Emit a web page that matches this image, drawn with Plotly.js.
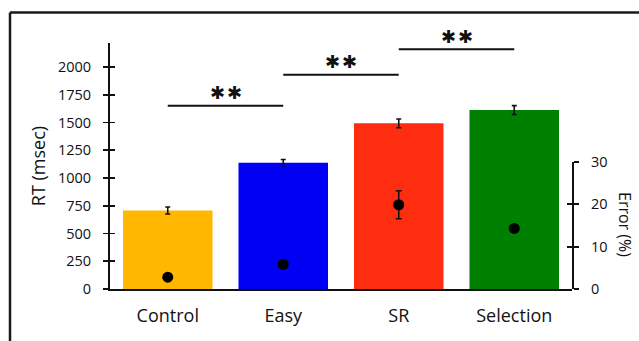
<!DOCTYPE html>
<html>
<head>
<meta charset="utf-8">
<script src="https://cdn.plot.ly/plotly-3.0.1.min.js"></script>
<style>html,body{margin:0;padding:0;background:#fff;}#chart{width:639px;height:341px;}</style>
</head>
<body>
<div id="chart"></div>
<script>
// ---- data ----
const categories = ["Control", "Easy", "SR", "Selection"];
const rtMean = [707, 1138, 1492, 1612];
const rtErr = [32, 28, 40, 40];
const errorRate = [2.8, 5.8, 19.9, 14.3];
const errorRateErr = [0, 0, 3.3, 0];
const barColors = ["#FFB700", "#0000F5", "#FF2D0F", "#008000"];
const sigPairs = [[0, 1], [1, 2], [2, 3]];
const sigHeights = [1650, 1930, 2160];
const sigLabels = ["✱\u200a✱", "✱\u200a✱", "✱\u200a✱"];
const rtTicks = [0, 250, 500, 750, 1000, 1250, 1500, 1750, 2000];
const errTicks = [0, 10, 20, 30];

// ---- layout geometry ----
const W = 639, H = 341;
const M = {l: 110, r: 67, t: 43, b: 52};
const pw = W - M.l - M.r, ph = H - M.t - M.b;
const px2paperX = p => (p - M.l) / pw;
const px2paperY = p => (H - M.b - p) / ph;
const font = "Open Sans, Liberation Sans, sans-serif";
const ink = "#111111";

const traces = [
  {
    type: "bar", x: categories, y: rtMean,
    marker: {color: barColors, line: {width: 0}},
    width: 0.775,
    error_y: {type: "data", array: rtErr, visible: true, color: ink, thickness: 1.6, width: 2.5},
    xaxis: "x", yaxis: "y", hoverinfo: "skip"
  },
  {
    type: "scatter", mode: "markers", x: categories, y: errorRate,
    marker: {color: "#000", size: 11},
    error_y: {type: "data", array: errorRateErr, visible: true, color: ink, thickness: 1.6, width: 3},
    xaxis: "x", yaxis: "y2", cliponaxis: false, hoverinfo: "skip"
  },
  // invisible helpers to draw crossing tick halves
  {type: "scatter", mode: "none", x: [categories[0]], y: [0], xaxis: "x", yaxis: "y3", hoverinfo: "skip", showlegend: false},
  {type: "scatter", mode: "none", x: [categories[0]], y: [0], xaxis: "x", yaxis: "y4", hoverinfo: "skip", showlegend: false}
];

const shapes = sigPairs.map((p, i) => ({
  type: "line", xref: "x", yref: "y",
  x0: p[0], x1: p[1], y0: sigHeights[i], y1: sigHeights[i],
  line: {color: ink, width: 2}
}));
// frame border (top and left)
shapes.push({type: "line", xref: "paper", yref: "paper", x0: px2paperX(10), x1: px2paperX(645), y0: px2paperY(12.5), y1: px2paperY(12.5), line: {color: "#1a1a1a", width: 2.5}});
shapes.push({type: "line", xref: "paper", yref: "paper", x0: px2paperX(10), x1: px2paperX(10), y0: px2paperY(12.5), y1: px2paperY(350), line: {color: "#1a1a1a", width: 2.5}});

const annotations = sigPairs.map((p, i) => ({
  xref: "x", yref: "y", x: (p[0] + p[1]) / 2, y: sigHeights[i],
  text: sigLabels[i], showarrow: false, yanchor: "middle", yshift: 13,
  font: {family: "DejaVu Sans", size: 18, color: ink}
}));
annotations.push({
  xref: "paper", yref: "paper", x: px2paperX(625), y: px2paperY(224),
  text: "Error (%)", textangle: 90, showarrow: false, xanchor: "center", yanchor: "middle",
  font: {family: font, size: 16, color: ink}
});

const err2Top = (H - M.b - 162) / ph;

const layout = {
  width: W, height: H,
  margin: M,
  paper_bgcolor: "#fff", plot_bgcolor: "rgba(0,0,0,0)",
  showlegend: false,
  font: {family: font, color: ink},
  xaxis: {
    type: "category", range: [-0.5, 3.5], showgrid: false, zeroline: false,
    showline: true, linecolor: ink, linewidth: 2,
    ticks: "outside", ticklen: 9, tickcolor: "rgba(0,0,0,0)",
    tickfont: {family: font, size: 18, color: ink}, fixedrange: true
  },
  yaxis: {
    range: [0, 2216], tickvals: rtTicks, ticktext: rtTicks.map(String),
    showgrid: false, zeroline: false, showline: true, linecolor: ink, linewidth: 2,
    ticks: "outside", ticklen: 5, tickwidth: 1.8, tickcolor: ink, ticklabelstandoff: 9,
    tickfont: {family: font, size: 14.5, color: ink},
    title: {text: "RT (msec)", font: {family: font, size: 18, color: ink}, standoff: 8}
  },
  yaxis3: {
    overlaying: "y", range: [0, 2216], tickvals: rtTicks, showticklabels: false,
    showgrid: false, zeroline: false, showline: false,
    ticks: "inside", ticklen: 5, tickwidth: 1.8, tickcolor: ink
  },
  yaxis2: {
    domain: [0, err2Top], anchor: "x", side: "right", range: [0, 30], tickvals: errTicks,
    showgrid: false, zeroline: false, showline: true, linecolor: ink, linewidth: 2,
    ticks: "outside", ticklen: 5, tickwidth: 1.8, tickcolor: ink, ticklabelstandoff: 9,
    tickfont: {family: font, size: 14.5, color: ink}
  },
  yaxis4: {
    overlaying: "y2", side: "right", anchor: "x", range: [0, 30], tickvals: errTicks, showticklabels: false,
    showgrid: false, zeroline: false, showline: false,
    ticks: "inside", ticklen: 5, tickwidth: 1.8, tickcolor: ink
  },
  shapes: shapes,
  annotations: annotations
};

Plotly.newPlot("chart", traces, layout, {staticPlot: true, displayModeBar: false});
</script>
</body>
</html>
